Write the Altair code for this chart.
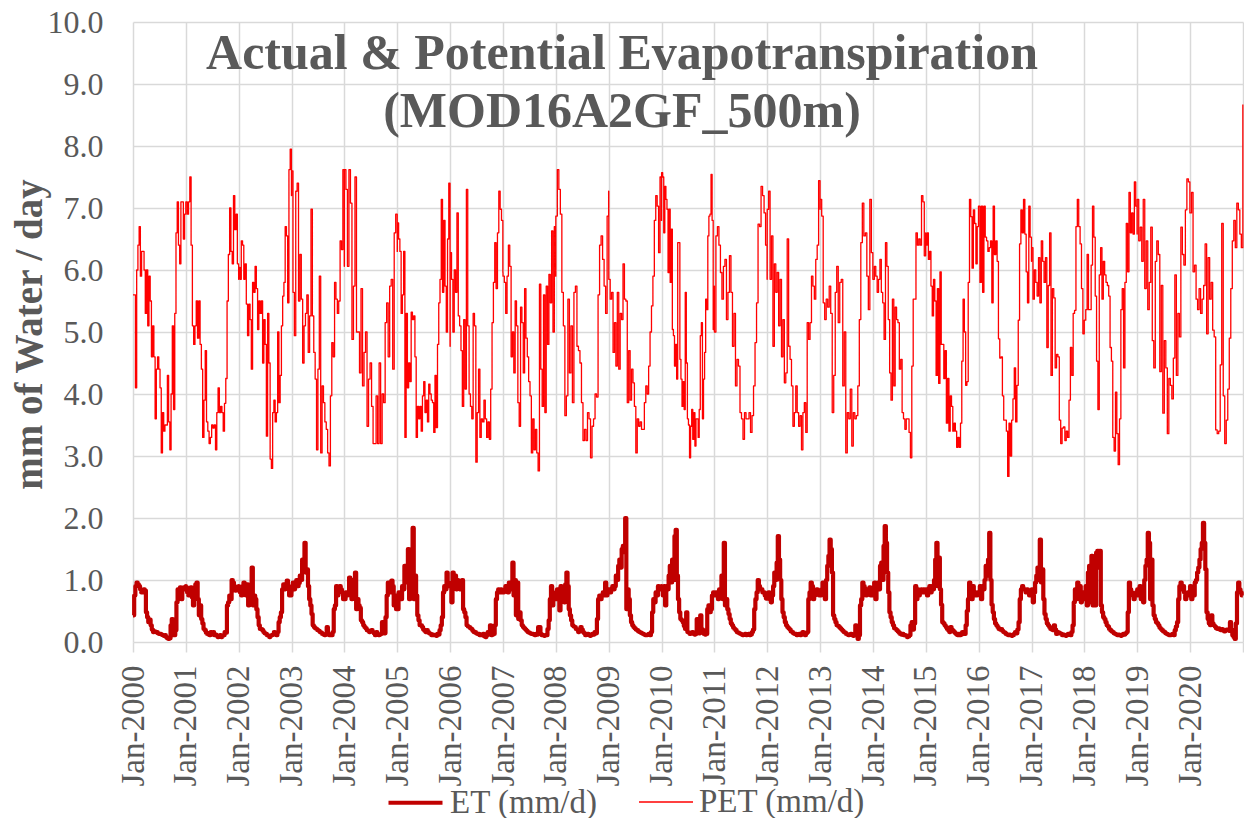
import altair as alt
import pandas as pd

# MOD16A2GF 8-day composites, mm of water per day, one list per calendar year
PET_2000 = [5.6, 5.6, 4.1, 6.0, 6.4, 6.7, 5.9, 6.3, 6.3, 6.0, 5.3, 6.0, 5.1, 5.9, 5.5, 4.6, 5.1, 4.6, 3.6, 4.4, 4.6, 4.4, 4.1, 3.05, 3.7, 3.4, 3.5, 3.5, 4.3, 3.55, 3.1, 4.0, 5.1, 3.75, 5.3, 6.6, 7.1, 6.4, 6.1, 7.1, 7.1, 6.5, 6.9, 7.1]
PET_2001 = [7.1, 6.9, 7.1, 7.5, 6.4, 5.1, 4.8, 5.1, 5.5, 4.9, 5.5, 4.8, 4.4, 3.3, 3.9, 4.7, 3.55, 3.4, 3.2, 3.3, 3.5, 3.45, 3.5, 3.1, 3.7, 4.1, 3.7, 3.8, 3.7, 3.4, 3.85, 4.25, 5.5, 6.25, 7.0, 6.3, 6.1, 7.2, 6.65, 6.9, 6.1, 5.85]
PET_2002 = [6.04, 5.85, 6.47, 6.4, 5.85, 6.1, 5.45, 4.94, 5.45, 5.2, 4.4, 5.8, 5.64, 6.06, 5.7, 5.04, 5.5, 5.3, 5.5, 4.5, 5.2, 4.8, 3.32, 5.3, 4.5, 2.95, 2.8, 3.7, 3.9, 3.55, 3.7, 5.0, 3.86, 4.3, 5.1, 5.58, 5.8, 6.7, 6.55, 5.47, 7.62, 7.95, 7.2]
PET_2003 = [7.6, 5.64, 4.94, 7.27, 7.4, 5.5, 6.25, 5.53, 4.5, 5.1, 5.3, 5.6, 4.67, 5.26, 6.98, 5.26, 4.67, 4.24, 3.1, 4.4, 5.9, 3.05, 4.13, 3.86, 3.55, 3.43, 3.05, 2.84, 3.97, 4.83, 4.6, 5.8, 5.53, 5.3, 5.5, 6.47, 6.33, 7.62, 6.06]
PET_2004 = [7.62, 7.3, 6.06, 7.62, 7.08, 4.88, 5.74, 7.5, 5.0, 5.0, 4.34, 5.7, 4.13, 4.67, 5.0, 3.48, 4.24, 4.5, 3.8, 3.2, 3.2, 3.97, 3.2, 4.5, 3.2, 4.0, 3.86, 5.15, 5.47, 4.6, 5.74, 5.85, 4.4, 6.6, 6.9, 6.3]
PET_2005 = [6.76, 6.5, 6.3, 5.3, 5.6, 6.3, 3.3, 5.3, 4.1, 4.5, 4.2, 5.32, 5.2, 5.26, 4.6, 3.3, 3.8, 3.6, 3.8, 3.4, 3.97, 4.2, 3.7, 3.9, 3.55, 4.16, 4.0, 3.9, 3.86, 3.38, 4.3, 3.46, 4.8, 5.47, 5.85, 7.14, 5.64, 6.8, 5.74, 5.0, 6.5, 7.4, 4.77]
PET_2006 = [6.28, 5.85, 5.0, 6.0, 5.64, 6.92, 5.26, 5.1, 4.7, 3.8, 5.2, 4.08, 7.3, 5.1, 4.0, 3.8, 3.6, 5.3, 5.1, 2.9, 3.7, 4.4, 3.3, 3.6, 3.55, 3.9, 3.6, 3.3, 3.55, 3.27, 4.08, 5.15, 5.8, 6.44, 5.7, 6.6, 7.27, 6.98, 6.8, 5.96]
PET_2007 = [5.9, 5.8, 5.3, 5.9, 6.4, 6.06, 4.6, 5.0, 4.34, 5.5, 5.1, 3.86, 3.48, 5.4, 5.15, 4.34, 5.7, 4.9, 4.6, 4.2, 3.97, 3.05, 3.6, 3.1, 3.43, 3.05, 2.76, 5.77, 4.4, 3.8, 5.6, 3.7, 5.74, 4.8, 5.93, 5.47, 6.63, 5.0, 6.7, 5.9]
PET_2008 = [6.87, 7.62, 7.3, 6.9, 5.64, 5.1, 3.65, 3.97, 5.53, 4.34, 5.1, 3.86, 5.64, 5.74, 4.77, 4.7, 4.5, 3.86, 3.25, 3.43, 3.25, 3.7, 3.6, 2.97, 3.48, 3.6, 4.0, 3.95, 5.6, 6.4, 6.55, 6.17, 5.74, 5.3, 6.87, 7.27]
PET_2009 = [5.85, 5.53, 5.64, 4.67, 5.15, 4.45, 5.64, 4.4, 5.3, 5.2, 6.1, 5.53, 5.5, 3.86, 4.7, 3.9, 4.4, 4.18, 3.8, 3.05, 3.6, 3.48, 3.55, 3.43, 3.43, 3.86, 4.13, 4.0, 4.45, 5.0, 5.42, 5.9, 6.8, 7.2, 7.03, 6.28, 7.5, 6.8]
PET_2010 = [7.57, 7.5, 6.6, 7.35, 7.14, 6.98, 5.96, 6.98, 5.8, 6.66, 5.04, 4.94, 4.45, 4.8, 4.24, 6.44, 6.44, 4.56, 4.24, 3.8, 4.2, 3.75, 5.64, 4.5, 3.6, 3.5, 2.97, 3.48, 3.75, 3.27, 3.7, 3.16, 3.6, 3.6, 3.3, 3.75, 4.94, 5.15, 3.6, 4.24, 4.67, 5.53, 5.36, 6.55, 6.87, 6.9, 7.54, 6.8, 5.04, 5.74]
PET_2011 = [5.0, 6.55, 6.7, 6.4, 5.96, 5.53, 6.06, 6.17, 5.2, 5.64, 6.23, 5.64, 4.77, 5.3, 4.13, 4.56, 4.45, 3.7, 3.6, 3.27, 3.7, 3.6, 3.6, 3.7, 3.38, 3.65, 4.13, 4.83, 5.47, 6.74, 6.7, 7.35, 7.2, 6.92, 6.4, 5.85]
PET_2012 = [6.98, 7.27, 5.85, 6.55, 4.77, 6.1, 5.64, 5.96, 5.1, 5.85, 4.6, 5.2, 4.18, 4.34, 6.5, 4.77, 4.56, 4.13, 3.48, 3.7, 4.13, 3.7, 3.48, 3.65, 3.1, 3.7, 3.86, 3.38, 5.15, 4.88, 5.15, 5.9, 5.74, 5.53, 6.17, 6.4, 7.44, 6.98]
PET_2013 = [7.14, 6.87, 5.47, 5.2, 5.53, 5.4, 5.74, 5.3, 3.7, 4.3, 5.64, 6.06, 5.15, 5.8, 5.85, 4.13, 5.0, 3.05, 3.7, 3.6, 4.08, 3.16, 3.7, 3.6, 3.65, 4.13, 5.2, 6.44, 7.08, 6.55, 6.6, 5.9, 5.36, 7.14, 6.28, 5.85]
PET_2014 = [5.85, 6.06, 5.9, 5.64, 5.85, 6.17, 5.64, 5.47, 4.88, 6.44, 6.06, 5.2, 4.34, 3.9, 5.53, 4.13, 5.4, 5.2, 5.15, 4.4, 4.56, 3.7, 3.6, 3.43, 3.6, 3.6, 3.38, 2.97, 4.45, 5.53, 5.53, 6.6, 6.4, 6.5, 6.4, 7.2, 7.1, 6.23, 6.6]
PET_2015 = [6.4, 6.6, 6.17, 6.3, 5.74, 5.26, 5.85, 5.5, 4.3, 5.7, 4.17, 5.97, 4.8, 4.8, 4.25, 4.7, 3.53, 4.25, 3.4, 3.97, 3.8, 3.4, 3.53, 3.4, 3.14, 3.3, 3.14, 3.53, 4.53, 5.53, 5.0, 4.14, 4.2, 5.8, 7.14, 6.86, 6.03, 6.97, 6.75, 6.1, 6.7, 7.03]
PET_2016 = [7.03, 5.8, 7.03, 5.64, 7.03, 6.53, 6.47, 6.3, 6.36, 6.47, 5.47, 7.03, 6.25, 6.47, 6.14, 4.89, 4.58, 4.6, 3.97, 3.58, 3.58, 3.4, 2.67, 3.53, 3.0, 3.58, 3.92, 4.42, 3.55, 4.14, 5.19, 6.42, 6.97, 6.6, 7.14, 6.58, 5.97, 5.47, 7.03, 6.53, 6.14]
PET_2017 = [6.36, 5.53, 6.0, 5.8, 5.58, 6.2, 5.47, 6.47, 6.14, 5.8, 6.2, 4.75, 5.75, 6.6, 4.3, 5.7, 5.55, 4.42, 4.64, 4.6, 3.58, 3.2, 3.45, 3.47, 3.25, 3.4, 3.3, 3.9, 4.75, 4.3, 5.3, 5.35, 6.7, 7.14, 6.7, 6.42, 5.7, 4.97, 5.19]
PET_2018 = [5.19, 5.36, 6.25, 5.36, 5.36, 6.08, 7.03, 6.53, 5.58, 4.53, 3.75, 5.92, 6.36, 5.53, 6.14, 5.92, 5.8, 5.75, 5.58, 4.75, 4.53, 3.3, 3.08, 4.03, 3.36, 2.86, 3.6, 5.36, 5.7, 4.42, 5.8, 6.75, 5.97, 7.25, 6.6, 6.92, 6.58, 7.42, 7.03, 6.58]
PET_2019 = [7.14, 6.47, 6.69, 6.14, 7.14, 5.7, 6.47, 5.36, 5.8, 6.69, 4.86, 4.42, 6.14, 6.47, 6.25, 4.36, 5.75, 3.69, 4.86, 4.42, 3.36, 4.25, 4.14, 3.92, 4.58, 5.92, 4.3, 5.3, 4.92, 6.69, 6.25, 6.08, 6.97, 7.47, 7.42, 6.92]
PET_2020 = [6.92, 7.25, 5.97, 6.08, 5.53, 5.36, 5.7, 5.3, 5.53, 5.75, 6.42, 4.97, 6.2, 5.53, 5.8, 5.03, 4.92, 3.42, 3.36, 3.4, 4.47, 6.75, 3.97, 3.2, 3.58, 4.08, 4.9, 5.7, 6.47, 6.8, 6.36, 7.08, 6.97, 6.58, 6.36, 8.67]

ET_2000 = [0.43, 0.75, 0.9, 0.96, 0.93, 0.9, 0.85, 0.8, 0.83, 0.85, 0.83, 0.48, 0.4, 0.32, 0.36, 0.27, 0.2, 0.16, 0.17, 0.16, 0.16, 0.14, 0.13, 0.13, 0.12, 0.11, 0.1, 0.11, 0.08, 0.06, 0.05, 0.06, 0.27, 0.37, 0.11, 0.11, 0.19, 0.64, 0.85, 0.8, 0.88, 0.69, 0.85, 0.88, 0.85, 0.9]
ET_2001 = [0.88, 0.8, 0.75, 0.85, 0.88, 0.72, 0.59, 0.85, 0.93, 0.96, 0.69, 0.43, 0.59, 0.37, 0.3, 0.21, 0.19, 0.15, 0.13, 0.12, 0.11, 0.16, 0.13, 0.16, 0.11, 0.12, 0.1, 0.08, 0.09, 0.11, 0.08, 0.1, 0.11, 0.16, 0.15, 0.59, 0.64, 0.75, 0.69, 1.0, 0.96, 0.9, 0.83, 0.88, 0.85, 0.9]
ET_2002 = [0.88, 0.8, 0.75, 0.9, 0.96, 0.93, 0.75, 0.93, 0.59, 0.75, 0.85, 1.2, 0.59, 0.75, 0.69, 0.53, 0.4, 0.27, 0.21, 0.21, 0.19, 0.16, 0.14, 0.13, 0.11, 0.1, 0.08, 0.1, 0.11, 0.12, 0.16, 0.13, 0.11, 0.16, 0.32, 0.4, 0.48, 0.85, 0.93, 0.85, 0.9, 0.99, 0.85, 0.75, 0.75, 0.8]
ET_2003 = [0.9, 0.96, 0.85, 0.9, 1.0, 0.9, 0.95, 1.07, 1.0, 1.33, 1.15, 1.6, 1.12, 1.17, 0.9, 0.69, 0.59, 0.45, 0.27, 0.24, 0.22, 0.21, 0.19, 0.18, 0.16, 0.15, 0.13, 0.12, 0.11, 0.12, 0.24, 0.13, 0.11, 0.11, 0.11, 0.16, 0.53, 0.59, 0.9, 0.75, 0.85, 0.9, 0.85, 0.8, 0.69, 0.7]
ET_2004 = [0.69, 0.8, 0.75, 0.8, 1.04, 0.85, 0.69, 1.0, 0.9, 1.12, 0.53, 0.69, 0.59, 0.55, 0.35, 0.32, 0.27, 0.24, 0.22, 0.19, 0.18, 0.16, 0.17, 0.19, 0.16, 0.14, 0.11, 0.16, 0.13, 0.11, 0.12, 0.13, 0.32, 0.16, 0.14, 0.4, 0.75, 0.96, 0.85, 0.8, 0.99, 0.9, 0.59, 0.75, 0.53, 0.7]
ET_2005 = [0.53, 0.8, 0.75, 0.69, 0.9, 0.85, 1.23, 0.96, 1.2, 1.5, 0.69, 1.44, 1.0, 1.84, 0.69, 1.07, 0.75, 0.43, 0.35, 0.27, 0.27, 0.24, 0.2, 0.18, 0.16, 0.19, 0.16, 0.14, 0.13, 0.11, 0.12, 0.11, 0.11, 0.1, 0.13, 0.12, 0.19, 0.27, 0.4, 0.8, 0.9, 0.85, 1.12, 0.96, 0.9, 0.9]
ET_2006 = [0.9, 0.64, 1.12, 0.96, 1.07, 0.85, 1.0, 0.9, 0.85, 0.95, 1.0, 0.53, 0.48, 0.4, 0.27, 0.25, 0.24, 0.22, 0.21, 0.18, 0.16, 0.16, 0.14, 0.13, 0.13, 0.11, 0.12, 0.11, 0.13, 0.09, 0.08, 0.11, 0.16, 0.14, 0.27, 0.11, 0.12, 0.13, 0.27, 0.69, 0.8, 0.85, 0.8, 0.85, 0.8, 0.8]
ET_2007 = [0.8, 0.85, 0.9, 0.85, 0.8, 0.96, 0.9, 0.85, 1.28, 0.75, 1.0, 0.43, 0.96, 0.37, 0.48, 0.35, 0.27, 0.24, 0.22, 0.2, 0.18, 0.16, 0.15, 0.14, 0.13, 0.13, 0.12, 0.11, 0.13, 0.12, 0.24, 0.24, 0.13, 0.11, 0.11, 0.1, 0.11, 0.11, 0.21, 0.35, 0.69, 0.9, 0.59, 0.75, 0.69, 0.8]
ET_2008 = [0.69, 0.85, 0.75, 0.51, 0.9, 0.8, 0.75, 0.64, 0.93, 1.12, 0.9, 0.53, 0.43, 0.35, 0.27, 0.25, 0.24, 0.21, 0.2, 0.16, 0.18, 0.24, 0.2, 0.16, 0.14, 0.11, 0.12, 0.13, 0.11, 0.1, 0.11, 0.13, 0.12, 0.16, 0.14, 0.37, 0.69, 0.75, 0.69, 0.75, 0.8, 0.75, 0.96, 0.75, 0.8, 0.85]
ET_2009 = [0.85, 0.8, 0.85, 0.9, 0.85, 0.9, 1.07, 1.0, 1.23, 1.33, 1.2, 1.5, 1.55, 1.45, 2.0, 0.53, 0.85, 0.69, 0.43, 0.32, 0.27, 0.24, 0.22, 0.2, 0.19, 0.17, 0.16, 0.15, 0.14, 0.13, 0.12, 0.11, 0.11, 0.12, 0.13, 0.11, 0.16, 0.48, 0.69, 0.64, 0.8, 0.75, 0.9, 0.85, 0.85, 0.9]
ET_2010 = [0.85, 0.75, 0.9, 0.59, 0.9, 0.85, 1.07, 1.23, 0.96, 1.33, 1.0, 1.71, 1.81, 1.07, 0.69, 0.48, 0.37, 0.35, 0.32, 0.26, 0.21, 0.48, 0.16, 0.15, 0.13, 0.14, 0.16, 0.13, 0.12, 0.13, 0.37, 0.16, 0.14, 0.43, 0.21, 0.19, 0.13, 0.12, 0.13, 0.53, 0.59, 0.48, 0.53, 0.75, 0.8, 0.8]
ET_2011 = [0.75, 0.8, 0.75, 0.69, 0.85, 0.8, 1.07, 0.69, 1.6, 0.59, 0.69, 0.53, 0.45, 0.37, 0.3, 0.27, 0.23, 0.21, 0.19, 0.16, 0.15, 0.14, 0.13, 0.12, 0.11, 0.12, 0.13, 0.11, 0.12, 0.13, 0.11, 0.12, 0.16, 0.2, 0.53, 0.69, 0.8, 1.0, 0.9, 0.85, 0.85, 0.8, 0.8, 0.75, 0.7, 0.75]
ET_2012 = [0.75, 0.8, 0.69, 0.64, 0.75, 0.9, 1.12, 1.0, 1.28, 1.71, 1.33, 1.0, 0.69, 0.48, 0.4, 0.32, 0.27, 0.24, 0.22, 0.2, 0.17, 0.16, 0.14, 0.13, 0.13, 0.11, 0.12, 0.13, 0.11, 0.14, 0.16, 0.12, 0.11, 0.14, 0.16, 0.69, 0.8, 0.96, 0.9, 0.69, 0.75, 0.8, 0.85, 0.8, 0.75, 0.75]
ET_2013 = [0.75, 0.85, 0.96, 0.8, 0.69, 1.0, 1.23, 1.39, 1.65, 1.5, 1.12, 0.43, 0.37, 0.32, 0.27, 0.26, 0.24, 0.22, 0.2, 0.18, 0.16, 0.15, 0.13, 0.12, 0.11, 0.12, 0.13, 0.11, 0.1, 0.11, 0.27, 0.12, 0.05, 0.11, 0.59, 0.69, 0.96, 0.9, 0.85, 0.75, 0.85, 0.8, 0.88, 0.75, 0.8, 0.75]
ET_2014 = [0.75, 0.96, 0.69, 0.85, 0.96, 0.85, 1.23, 1.28, 1.0, 1.55, 1.87, 1.6, 1.12, 0.8, 0.48, 0.4, 0.32, 0.27, 0.22, 0.21, 0.19, 0.17, 0.15, 0.13, 0.12, 0.13, 0.11, 0.11, 0.1, 0.08, 0.09, 0.11, 0.27, 0.32, 0.2, 0.3, 0.9, 0.69, 0.85, 0.75, 0.8, 0.85, 0.8, 0.85, 0.8, 0.85]
ET_2015 = [0.85, 0.75, 0.85, 0.9, 0.8, 0.9, 0.85, 1.0, 1.33, 1.6, 0.9, 1.36, 0.85, 0.6, 0.32, 0.3, 0.27, 0.24, 0.21, 0.19, 0.16, 0.24, 0.2, 0.18, 0.16, 0.14, 0.12, 0.11, 0.13, 0.11, 0.12, 0.16, 0.14, 0.13, 0.27, 0.5, 0.69, 0.96, 0.9, 0.69, 0.9, 0.75, 0.8, 0.75, 0.8, 0.8]
ET_2016 = [0.8, 0.9, 0.69, 0.9, 0.85, 1.0, 1.23, 1.07, 1.33, 1.76, 1.0, 0.6, 0.48, 0.37, 0.3, 0.27, 0.24, 0.21, 0.2, 0.21, 0.18, 0.16, 0.15, 0.13, 0.12, 0.11, 0.12, 0.11, 0.1, 0.11, 0.13, 0.16, 0.14, 0.2, 0.32, 0.69, 0.85, 0.9, 0.85, 0.85, 0.8, 0.85, 0.8, 0.75, 0.8, 0.75]
ET_2017 = [0.85, 0.64, 0.8, 0.96, 1.07, 1.2, 1.0, 1.65, 0.96, 1.17, 0.69, 0.45, 0.37, 0.3, 0.27, 0.24, 0.21, 0.2, 0.19, 0.27, 0.2, 0.13, 0.16, 0.15, 0.14, 0.13, 0.11, 0.12, 0.11, 0.1, 0.11, 0.13, 0.12, 0.11, 0.16, 0.27, 0.64, 0.85, 0.69, 0.96, 0.85, 0.9, 0.64, 0.8, 0.75, 0.7]
ET_2018 = [0.69, 0.9, 0.59, 1.12, 1.23, 0.64, 1.39, 0.59, 1.28, 0.59, 1.44, 1.47, 1.2, 1.47, 0.59, 0.48, 0.4, 0.37, 0.32, 0.27, 0.25, 0.21, 0.19, 0.17, 0.16, 0.14, 0.13, 0.12, 0.11, 0.12, 0.11, 0.1, 0.11, 0.13, 0.12, 0.14, 0.16, 0.48, 0.96, 0.85, 0.8, 0.75, 0.69, 0.75, 0.8, 0.75]
ET_2019 = [0.85, 0.75, 0.9, 0.69, 0.8, 0.64, 1.0, 1.23, 1.33, 1.76, 1.6, 0.69, 1.33, 0.59, 0.43, 0.37, 0.32, 0.3, 0.27, 0.23, 0.21, 0.19, 0.17, 0.16, 0.14, 0.13, 0.12, 0.11, 0.11, 0.12, 0.13, 0.11, 0.19, 0.25, 0.32, 0.69, 0.9, 0.96, 0.85, 0.9, 0.8, 0.69, 0.75, 0.8, 0.75, 0.8]
ET_2020 = [0.9, 0.69, 0.8, 0.75, 0.96, 1.0, 1.12, 1.2, 1.33, 1.5, 1.6, 1.92, 1.6, 1.17, 0.48, 0.37, 0.3, 0.27, 0.43, 0.3, 0.27, 0.25, 0.22, 0.21, 0.22, 0.2, 0.19, 0.21, 0.19, 0.17, 0.19, 0.2, 0.19, 0.18, 0.32, 0.2, 0.11, 0.08, 0.05, 0.3, 0.8, 0.96, 0.85, 0.8, 0.75, 0.75]

YEARS = list(range(2000, 2021))
PET_BY_YEAR = [PET_2000, PET_2001, PET_2002, PET_2003, PET_2004, PET_2005, PET_2006,
               PET_2007, PET_2008, PET_2009, PET_2010, PET_2011, PET_2012, PET_2013,
               PET_2014, PET_2015, PET_2016, PET_2017, PET_2018, PET_2019, PET_2020]
ET_BY_YEAR = [ET_2000, ET_2001, ET_2002, ET_2003, ET_2004, ET_2005, ET_2006,
              ET_2007, ET_2008, ET_2009, ET_2010, ET_2011, ET_2012, ET_2013,
              ET_2014, ET_2015, ET_2016, ET_2017, ET_2018, ET_2019, ET_2020]

SERIES = ["ET (mm/d)", "PET (mm/d)"]
SERIES_COLORS = ["#C00000", "#FF0000"]
SERIES_WIDTHS = [4.2, 1.3]
Y_TICKS = [0, 1, 2, 3, 4, 5, 6, 7, 8, 9, 10]
TITLE_LINE_1 = "Actual & Potential Evapotranspiration"
TITLE_LINE_2 = "(MOD16A2GF_500m)"
Y_TITLE = "mm of Water / day"

FONT = "Liberation Serif"
GREY = "#595959"
GRID = "#D9D9D9"

# Spread each year's composites across that calendar year
rows = []
for name, table in zip(SERIES, [ET_BY_YEAR, PET_BY_YEAR]):
    for year, vals in zip(YEARS, table):
        start = pd.Timestamp(year, 1, 1)
        span = pd.Timestamp(year, 12, 31) - start
        n = len(vals)
        for i, v in enumerate(vals):
            rows.append({"date": start + span * (i / (n - 1)), "value": v, "series": name})
df = pd.DataFrame(rows)

legend = alt.Legend(
    title=None, orient="none", direction="horizontal", legendX=253, legendY=751,
    symbolType="stroke", symbolSize=2916, labelFont=FONT, labelFontSize=33,
    labelColor=GREY, labelOffset=5, columnPadding=38, padding=0, labelLimit=400,
)

x_ticks = [alt.DateTime(year=y, month=1, date=1) for y in range(2000, 2022)]

lines = alt.Chart(df).mark_line(interpolate="step-after", strokeJoin="round").encode(
    x=alt.X(
        "date:T",
        scale=alt.Scale(domain=[alt.DateTime(year=2000, month=1, date=1),
                                alt.DateTime(year=2021, month=1, date=1)]),
        axis=alt.Axis(
            values=x_ticks, title=None, labelAngle=270,
            labelExpr="year(datum.value) > 2020 ? '' : timeFormat(datum.value, '%b-%Y')",
            labelFont=FONT, labelFontSize=33, labelColor=GREY, labelPadding=13,
            labelOverlap=False, labelFlush=False, labelBound=False,
            domain=False, ticks=True, tickSize=10, tickColor=GRID, tickWidth=1.5,
            grid=True, gridColor=GRID, gridWidth=1.5,
        ),
    ),
    y=alt.Y(
        "value:Q",
        scale=alt.Scale(domain=[0, 10], nice=False),
        axis=alt.Axis(
            values=Y_TICKS, format=".1f", title=Y_TITLE, titleFont=FONT,
            titleFontSize=39, titleFontWeight="bold", titleColor=GREY,
            titleAngle=270, titleX=-104, titleY=312, titleAlign="center",
            titleBaseline="middle",
            labelFont=FONT, labelFontSize=32, labelColor=GREY, labelPadding=30,
            domain=False, ticks=False, grid=True, gridColor=GRID, gridWidth=1.5,
        ),
    ),
    color=alt.Color("series:N", scale=alt.Scale(domain=SERIES, range=SERIES_COLORS), legend=legend),
    strokeWidth=alt.StrokeWidth("series:N", scale=alt.Scale(domain=SERIES, range=SERIES_WIDTHS), legend=legend),
)

title_1 = alt.Chart(pd.DataFrame({"label": [TITLE_LINE_1]})).mark_text(
    font=FONT, fontSize=50, fontWeight="bold", color=GREY, align="center", baseline="alphabetic",
).encode(x=alt.value(489), y=alt.value(47), text="label:N")

title_2 = alt.Chart(pd.DataFrame({"label": [TITLE_LINE_2]})).mark_text(
    font=FONT, fontSize=50, fontWeight="bold", color=GREY, align="center", baseline="alphabetic",
).encode(x=alt.value(489), y=alt.value(105), text="label:N")

chart = alt.layer(lines, title_1, title_2).properties(
    width=1110, height=620,
    autosize=alt.AutoSizeParams(type="none"),
    padding={"left": 133, "top": 22, "right": 1, "bottom": 176},
    background="white",
).configure_view(strokeWidth=0)

chart.save("out.html", embed_options={"renderer": "svg", "actions": False})
